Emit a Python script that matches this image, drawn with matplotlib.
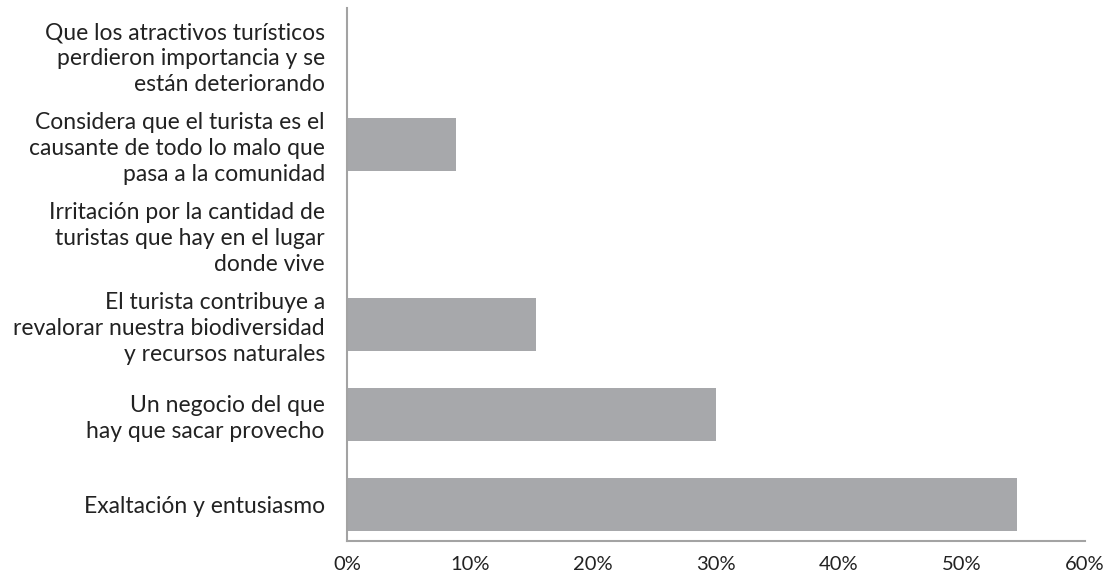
import matplotlib
matplotlib.use("Agg")
import matplotlib.pyplot as plt
from matplotlib.ticker import FuncFormatter

# Categories from bottom to top
categories = [
    "Exaltación y entusiasmo",
    "Un negocio del que\nhay que sacar provecho",
    "El turista contribuye a\nrevalorar nuestra biodiversidad\ny recursos naturales",
    "Irritación por la cantidad de\nturistas que hay en el lugar\ndonde vive",
    "Considera que el turista es el\ncausante de todo lo malo que\npasa a la comunidad",
    "Que los atractivos turísticos\nperdieron importancia y se\nestán deteriorando",
]
shares = [54.5, 30.0, 15.4, 0.0, 8.9, 0.0]  # percent
x_ticks = [0, 10, 20, 30, 40, 50, 60]

BAR_COLOR = "#a7a8ab"
AXIS_COLOR = "#a3a3a3"
TEXT_COLOR = "#222222"

plt.rcParams["font.family"] = ["Lato", "DejaVu Sans"]

fig = plt.figure(figsize=(11.13, 5.76), dpi=100)
ax = fig.add_axes([0.3118, 0.0608, 0.9748 - 0.3118, 0.986 - 0.0608])

pos = list(range(len(categories)))
ax.barh(pos, shares, height=0.59, color=BAR_COLOR, zorder=2)

ax.set_xlim(0, 60)
ax.set_ylim(-0.406, 5.51)
ax.set_xticks(x_ticks)
ax.xaxis.set_major_formatter(FuncFormatter(lambda v, _: f"{v:.0f}%"))
ax.set_yticks(pos)
ax.set_yticklabels(categories, linespacing=1.28)

for side in ("top", "right"):
    ax.spines[side].set_visible(False)
for side in ("left", "bottom"):
    ax.spines[side].set_color(AXIS_COLOR)
    ax.spines[side].set_linewidth(1.5)
    ax.spines[side].set_zorder(3)

ax.tick_params(axis="y", length=0, pad=16, labelsize=16.5, labelcolor=TEXT_COLOR)
ax.tick_params(axis="x", length=0, pad=11, labelsize=14.5, labelcolor=TEXT_COLOR)

fig.savefig("out.png", dpi=100, facecolor="white")
